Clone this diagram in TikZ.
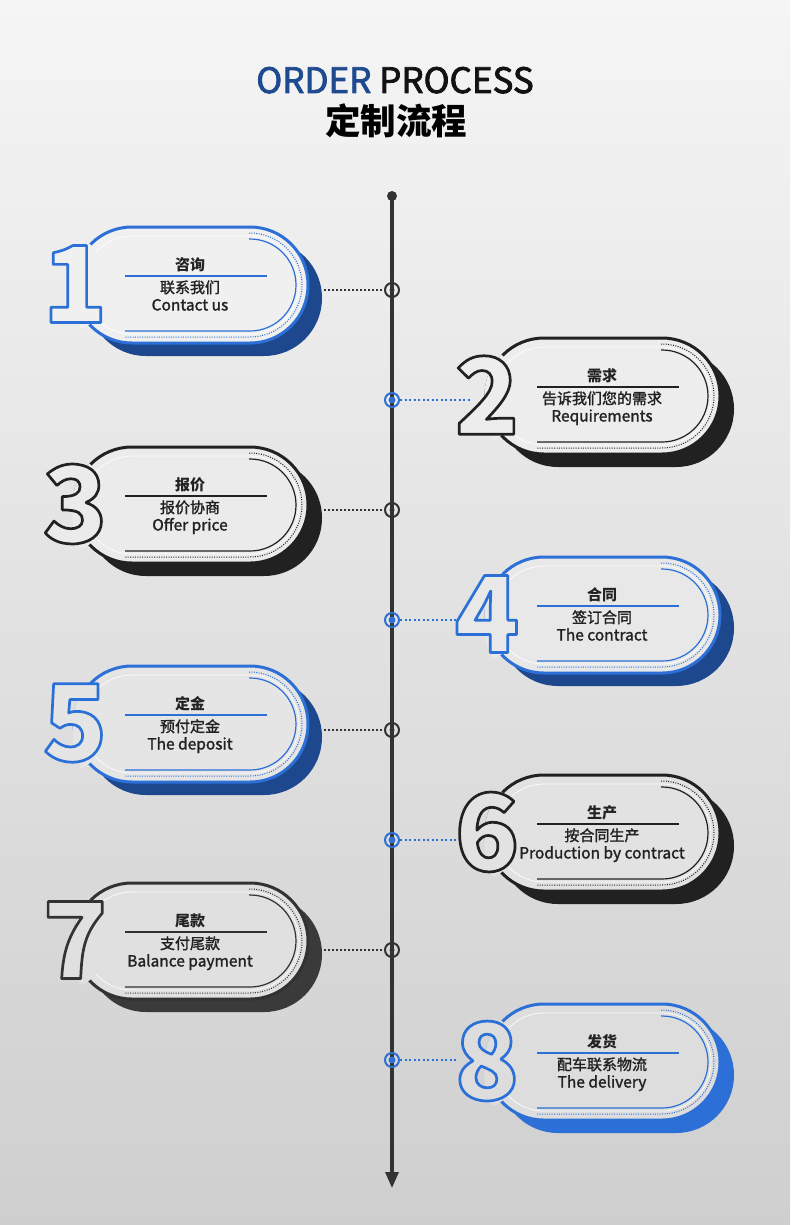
\documentclass[tikz,border=0pt]{standalone}
\usepackage{fontspec}
\setmainfont{Noto Sans CJK SC}
\usetikzlibrary{arrows.meta}
\definecolor{bgtop}{RGB}{245,245,245}
\definecolor{bgbot}{RGB}{207,207,207}
\definecolor{cblue}{RGB}{44,111,214}
\definecolor{cnavy}{RGB}{29,72,141}
\definecolor{ctitle}{RGB}{31,74,143}
\definecolor{cdark}{RGB}{33,33,33}
\definecolor{cgray}{RGB}{50,50,50}
\definecolor{cgrays}{RGB}{58,58,58}
\definecolor{ctxt}{RGB}{34,34,34}
\definecolor{tline}{RGB}{51,51,51}
% outlined text: #1 stroke rgb, #2 fill colour, #3 text
\newcommand\outlined[3]{{\color{#2}\special{pdf:literal direct #1 RG 2 Tr 2.7 w 1 j}#3\special{pdf:literal direct 0 Tr}}}
% slightly heavier text: #1 stroke width, #2 text
\newcommand\heavier[2]{{\special{pdf:literal direct 2 Tr #1 w 1 j}#2\special{pdf:literal direct 0 Tr}}}
% card shape: #1 L, #2 cy, #3 border, #4 shadow, #5 bg percent, #6 digit, #7 digit rgb, #8 name
\newcommand\cardshape[8]{%
  \colorlet{cf}{bgtop!#5!bgbot!80!white}%
  \fill[#4, rounded corners=57.9pt] ({#1+14},{#2-45}) rectangle ({#1+248},{#2+71});
  \draw[#3, fill=cf, line width=3pt, rounded corners=57.9pt] (#1,{#2-58}) rectangle ({#1+234},{#2+58});
  \draw[white, opacity=.85, line width=.8pt, rounded corners=48.9pt] ({#1+9},{#2-49}) rectangle ({#1+225},{#2+49});
  \begin{scope}
    \clip[rounded corners=59pt] ({#1-1.5},{#2-59.5}) rectangle ({#1+249},{#2+72.5});
    \fill[cf] ({#1+1},{#2-1}) ellipse [x radius=30, y radius=46];
  \end{scope}
  \draw[#3, line width=1.2pt] ({#1+175},{#2-46}) -- ({#1+176},{#2-46}) arc[start angle=-90, end angle=90, radius=46] -- ({#1+51},{#2+46});
  \draw[#3, line width=1pt, dash pattern=on 1pt off 1.4pt] ({#1+175},{#2-52}) -- ({#1+176},{#2-52}) arc[start angle=-90, end angle=90, radius=52] -- ({#1+51},{#2+52});
  \draw[#3, line width=1.6pt] ({#1+51},{#2-9}) -- ({#1+193},{#2-9});
  \node[inner sep=0] (d#8) at ({#1+1},{#2-1}) {\bfseries\fontsize{106}{106}\selectfont\outlined{#7}{cf}{#6}};
}
% card text: #1 L, #2 cy, #3 title, #4 line2, #5 line3, #6 name
\newcommand\cardtext[6]{%
  \node[cardhead] (h#6) at ({#1+116},{#2-15}) {#3};
  \node[cardline] (z#6) at ({#1+116},{#2+8}) {\heavier{0.25}{#4}};
  \node[cardeng] (e#6) at ({#1+116},{#2+25.5}) {\heavier{0.25}{#5}};
}
\begin{document}
\begin{tikzpicture}[x=1pt,y=-1pt,
  cardhead/.style={anchor=base, inner sep=0, text=ctxt, font=\bfseries\fontsize{15}{18}\selectfont},
  cardline/.style={anchor=base, inner sep=0, text=ctxt, font=\fontsize{15}{18}\selectfont},
  cardeng/.style={anchor=base, inner sep=0, text=ctxt, font=\fontsize{15.5}{18}\selectfont},
  ringdark/.style={circle, draw=tline, line width=2pt, minimum size=14pt, inner sep=0},
  ringblue/.style={circle, draw=cblue, line width=2pt, minimum size=14pt, inner sep=0},
  dotdark/.style={tline, line width=2.2pt, dash pattern=on 2.2pt off 1.8pt},
  dotblue/.style={cblue, line width=2.2pt, dash pattern=on 2.2pt off 2.3pt}]
\useasboundingbox (0,0) rectangle (790,1225);
\shade[top color=bgtop, bottom color=bgbot] (0,0) rectangle (790,1225);

% title
\node[anchor=base, inner sep=0, font=\fontsize{35}{40}\selectfont] (title) at (395,93) {\heavier{0.8}{\textcolor{ctitle}{ORDER} \textcolor{black!93}{PROCESS}}};
\node[anchor=base, inner sep=0, font=\bfseries\fontsize{35.5}{40}\selectfont] (subtitle) at (396,135) {定制流程};

% timeline
\node[circle, fill=tline, inner sep=0, minimum size=10pt] (tl0) at (392,196) {};
\coordinate (tlend) at (392,1188);
\draw[tline, line width=3.2pt, -{Triangle[length=16pt, width=13pt]}] (tl0.center) -- (tlend);

% rings and connectors
\foreach \k/\y in {1/290,3/510,5/730,7/950}{
  \node[ringdark] (c\k) at (392,\y) {};
  \fill[tline] (c\k.center) circle (2.5pt);
  \coordinate (a\k) at (324,\y);
  \draw[dotdark] (a\k) -- (c\k);
}
\foreach \k/\y/\e in {2/400/470,4/620/458,6/840/458,8/1060/458}{
  \node[ringblue] (c\k) at (392,\y) {};
  \fill[cblue] (c\k.center) circle (3.5pt);
  \coordinate (b\k) at (\e,\y);
  \draw[dotblue] (c\k) -- (b\k);
}

% cards
\cardshape{74}{285}{cblue}{cnavy}{77}{1}{0.17 0.44 0.84}{1}
\cardtext{74}{285}{咨询}{联系我们}{Contact us}{1}
\cardshape{486}{396}{cdark}{cdark}{68}{2}{0.13 0.13 0.13}{2}
\cardtext{486}{396}{需求}{告诉我们您的需求}{Requirements}{2}
\cardshape{74}{505}{cdark}{cdark}{59}{3}{0.13 0.13 0.13}{3}
\cardtext{74}{505}{报价}{报价协商}{Offer price}{3}
\cardshape{486}{615}{cblue}{cnavy}{50}{4}{0.17 0.44 0.84}{4}
\cardtext{486}{615}{合同}{签订合同}{The contract}{4}
\cardshape{74}{724}{cblue}{cnavy}{41}{5}{0.17 0.44 0.84}{5}
\cardtext{74}{724}{定金}{预付定金}{The deposit}{5}
\cardshape{486}{833}{cdark}{cdark}{32}{6}{0.13 0.13 0.13}{6}
\cardtext{486}{833}{生产}{按合同生产}{Production by contract}{6}
\cardshape{74}{941}{cgray}{cgrays}{23}{7}{0.2 0.2 0.2}{7}
\cardtext{74}{941}{尾款}{支付尾款}{Balance payment}{7}
\cardshape{486}{1062}{cblue}{cblue}{13}{8}{0.17 0.44 0.84}{8}
\cardtext{486}{1062}{发货}{配车联系物流}{The delivery}{8}
\end{tikzpicture}
\end{document}
